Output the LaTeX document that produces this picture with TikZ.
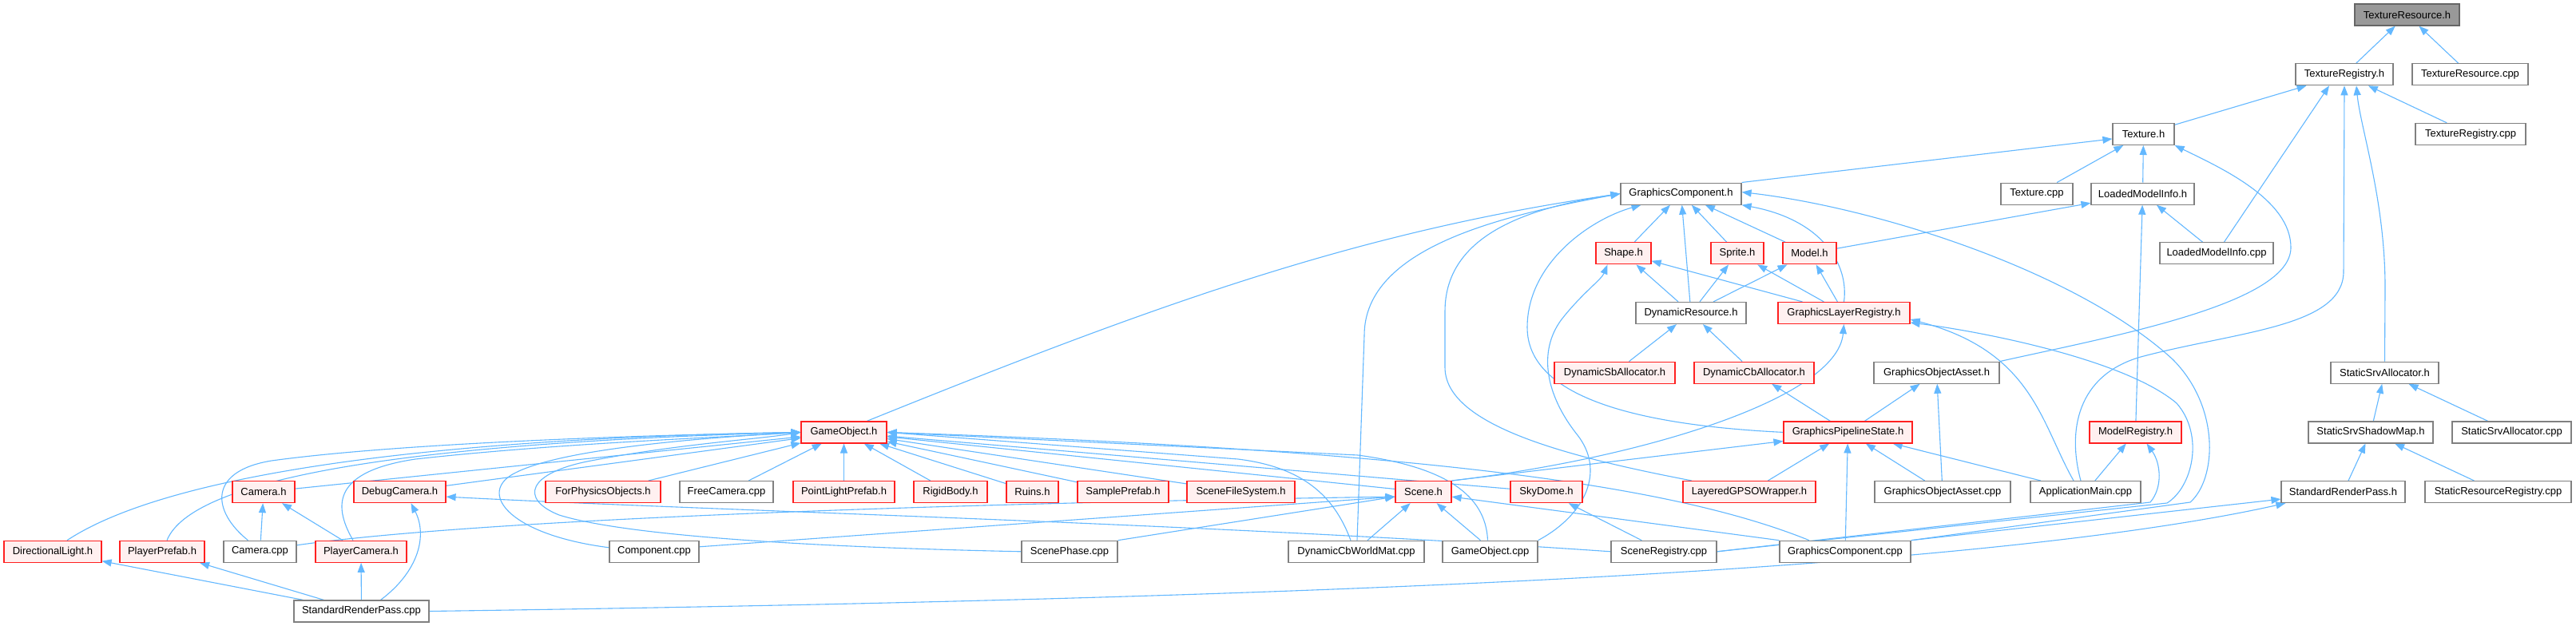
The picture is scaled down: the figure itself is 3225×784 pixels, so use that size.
\documentclass[tikz,border=0pt]{standalone}
\usepackage{fontspec}
\setmainfont{Liberation Sans}
\usetikzlibrary{arrows.meta}
\definecolor{eb}{HTML}{63B8FF}
\definecolor{rf}{HTML}{FFF0F0}
\definecolor{rb}{HTML}{FF2020}
\definecolor{gb}{HTML}{808080}
\definecolor{rootf}{HTML}{999999}
\definecolor{rootb}{HTML}{666666}
\pgfdeclarelayer{bg}
\pgfsetlayers{bg,main}
\newcommand{\mynode}[6]{\node[#1,minimum width={#4pt-#3pt}] (#2) at ({(#3+#4)/2},#5) {#6};}
\begin{document}
\begin{tikzpicture}[x=1pt,y=-1pt,
  box/.style={draw=gb, fill=white, line width=1.2pt, minimum height=27pt, inner sep=0pt, font=\fontsize{13}{15}\selectfont},
  redbox/.style={box, draw=rb, fill=rf},
  rootbox/.style={box, draw=rootb, fill=rootf},
  edge/.style={draw=eb, line width=1.1pt, -{Triangle[length=12pt,width=9pt]}}]
\useasboundingbox (0,0) rectangle (3225,784);
% row 0-2
\mynode{rootbox}{TRh}{2948}{3079}{18.5}{TextureResource.h}
\mynode{box}{TRegh}{2874}{2996}{93.2}{TextureRegistry.h}
\mynode{box}{TRescpp}{3020}{3165}{93.2}{TextureResource.cpp}
\mynode{box}{Texh}{2645}{2722}{167.9}{Texture.h}
\mynode{box}{TRegcpp}{3024}{3162}{167.9}{TextureRegistry.cpp}
% row 3
\mynode{box}{GCh}{2029}{2180}{242.6}{GraphicsComponent.h}
\mynode{box}{Texcpp}{2505}{2595}{242.6}{Texture.cpp}
\mynode{box}{LMIh}{2618}{2747}{242.6}{LoadedModelInfo.h}
% row 4
\mynode{redbox}{Shape}{1998}{2067}{317.3}{Shape.h}
\mynode{redbox}{Sprite}{2142}{2208}{317.3}{Sprite.h}
\mynode{redbox}{Model}{2232}{2299}{317.3}{Model.h}
\mynode{box}{LMIcpp}{2704}{2846}{317.3}{LoadedModelInfo.cpp}
% row 5
\mynode{box}{DR}{2048}{2186}{392}{DynamicResource.h}
\mynode{redbox}{GLR}{2226}{2391}{392}{GraphicsLayerRegistry.h}
% row 6
\mynode{redbox}{DSA}{1946}{2097}{466.7}{DynamicSbAllocator.h}
\mynode{redbox}{DCA}{2121}{2271}{466.7}{DynamicCbAllocator.h}
\mynode{box}{GOAh}{2346}{2503}{466.7}{GraphicsObjectAsset.h}
\mynode{box}{SSAh}{2918}{3053}{466.7}{StaticSrvAllocator.h}
% row 7
\mynode{redbox}{GOh}{1003}{1110}{541.4}{GameObject.h}
\mynode{redbox}{GPS}{2233}{2394}{541.4}{GraphicsPipelineState.h}
\mynode{redbox}{MR}{2616}{2731}{541.4}{ModelRegistry.h}
\mynode{box}{SSSM}{2890}{3046}{541.4}{StaticSrvShadowMap.h}
\mynode{box}{SSAcpp}{3070}{3219}{541.4}{StaticSrvAllocator.cpp}
% row 8
\mynode{redbox}{CamH}{291}{369}{616.1}{Camera.h}
\mynode{redbox}{DbgCam}{443}{558}{616.1}{DebugCamera.h}
\mynode{redbox}{FPO}{683}{827}{616.1}{ForPhysicsObjects.h}
\mynode{box}{FreeCam}{851}{968}{616.1}{FreeCamera.cpp}
\mynode{redbox}{PLP}{993}{1120}{616.1}{PointLightPrefab.h}
\mynode{redbox}{RB}{1144}{1236}{616.1}{RigidBody.h}
\mynode{redbox}{Ruins}{1260}{1325}{616.1}{Ruins.h}
\mynode{redbox}{SP}{1349}{1463}{616.1}{SamplePrefab.h}
\mynode{redbox}{SFS}{1486}{1621}{616.1}{SceneFileSystem.h}
\mynode{redbox}{Scene}{1747}{1817}{616.1}{Scene.h}
\mynode{redbox}{Sky}{1891}{1981}{616.1}{SkyDome.h}
\mynode{redbox}{LGW}{2107}{2273}{616.1}{LayeredGPSOWrapper.h}
\mynode{box}{GOAcpp}{2347}{2517}{616.1}{GraphicsObjectAsset.cpp}
\mynode{box}{App}{2542}{2680}{616.1}{ApplicationMain.cpp}
\mynode{box}{SRPh}{2856}{3011}{616.1}{StandardRenderPass.h}
\mynode{box}{SRR}{3036}{3219}{616.1}{StaticResourceRegistry.cpp}
% row 9
\mynode{redbox}{DL}{5}{127}{690.8}{DirectionalLight.h}
\mynode{redbox}{PP}{150}{256}{690.8}{PlayerPrefab.h}
\mynode{box}{CamCpp}{280}{371}{690.8}{Camera.cpp}
\mynode{redbox}{PC}{395}{509}{690.8}{PlayerCamera.h}
\mynode{box}{Comp}{763}{875}{690.8}{Component.cpp}
\mynode{box}{ScPh}{1279}{1399}{690.8}{ScenePhase.cpp}
\mynode{box}{DCWM}{1613}{1783}{690.8}{DynamicCbWorldMat.cpp}
\mynode{box}{GOcpp}{1806}{1925}{690.8}{GameObject.cpp}
\mynode{box}{SReg}{2017}{2149}{690.8}{SceneRegistry.cpp}
\mynode{box}{GCcpp}{2228}{2392}{690.8}{GraphicsComponent.cpp}
% row 10
\mynode{box}{SRPcpp}{368}{537}{765.5}{StandardRenderPass.cpp}

\begin{pgfonlayer}{bg}
\fill[white] (0,0) rectangle (3225,784);
% top part
\draw[edge] (TRegh) -- (TRh);
\draw[edge] (TRescpp) -- (TRh);
\draw[edge] (Texh) -- (TRegh);
\draw[edge] (TRegcpp) -- (TRegh);
\draw[edge] (LMIcpp) -- ([xshift=-19pt]TRegh.south);
\draw[edge] (SSAh.north) -- (2986,360) .. controls (2986,250) and (2955,160) .. ([xshift=15pt]TRegh.south);
\draw[edge] ([xshift=-6pt]App.north) .. controls (2588,540) and (2600,470) .. (2680,447) .. controls (2800,415) and (2934,410) .. (2934,340) -- (TRegh.south);
\draw[edge] (LMIh) -- (Texh);
\draw[edge] (Texcpp) -- (Texh);
\draw[edge] (GCh.north east) -- ([yshift=-6pt]Texh.west);
\draw[edge] (GOAh.north east) .. controls (2650,420) and (2868,380) .. (2868,310) .. controls (2868,250) and (2780,210) .. (Texh.south east);
\draw[edge] (Model) -- (LMIh);
\draw[edge] (LMIcpp) -- (LMIh);
\draw[edge] (MR) -- (LMIh);
% GraphicsComponent.h
\draw[edge] (Shape) -- (GCh);
\draw[edge] (Sprite) -- (GCh);
\draw[edge] (Model) -- (GCh);
\draw[edge] (DR) -- (GCh);
\draw[edge] (GLR.north) .. controls (2315,330) and (2280,275) .. (GCh.south east);
\draw[edge] (GCcpp.north east) -- (2742,629) .. controls (2775,600) and (2780,510) .. (2720,450) .. controls (2600,340) and (2350,260) .. ([yshift=2pt]GCh.east);
\draw[edge] ([xshift=29pt]GOh.north) .. controls (1450,380) and (1700,290) .. (GCh.west);
\draw[edge] ([xshift=1pt]DCWM.north) -- (1708,420) .. controls (1708,310) and (1880,270) .. (GCh.west);
\draw[edge] ([xshift=-72pt]LGW.north) .. controls (1950,570) and (1809,530) .. (1809,460) -- (1809,390) .. controls (1809,300) and (1900,262) .. (GCh.west);
\draw[edge] (GPS.west) .. controls (2000,530) and (1912,480) .. (1912,410) .. controls (1912,330) and (1990,275) .. ([xshift=-50pt]GCh.south);
% Shape / Sprite / Model
\draw[edge] (DR) -- (Shape);
\draw[edge] (DR) -- (Sprite);
\draw[edge] (DR) -- (Model);
\draw[edge] (GLR) -- (Shape);
\draw[edge] (GLR) -- (Sprite);
\draw[edge] (GLR) -- (Model);
\draw[edge] (GOcpp.north east) .. controls (1985,645) and (2010,590) .. (1975,545) .. controls (1935,495) and (1925,440) .. (1955,400) .. controls (1980,368) and (2005,350) .. ([xshift=-20pt]Shape.south);
% DynamicResource
\draw[edge] (DSA) -- (DR);
\draw[edge] (DCA) -- (DR);
% GraphicsPipelineState
\draw[edge] (GPS) -- (DCA);
\draw[edge] (GPS) -- (GOAh);
\draw[edge] (GOAcpp) -- (GOAh);
\draw[edge] (GOAcpp) -- (GPS);
\draw[edge] (LGW) -- (GPS);
\draw[edge] (GCcpp) -- (GPS);
\draw[edge] (App) -- (GPS);
\draw[edge] (Scene.north east) -- ([yshift=3pt]GPS.south west);
% GraphicsLayerRegistry
\draw[edge] (Scene.north east) .. controls (2050,575) and (2300,500) .. (GLR.south);
\draw[edge] ([xshift=-15pt]App.north) .. controls (2555,530) and (2545,440) .. ([yshift=-8pt]GLR.east);
\draw[edge] (SReg.east) -- (2713,630) .. controls (2745,610) and (2760,545) .. (2725,505) .. controls (2660,450) and (2480,415) .. ([yshift=-12pt]GLR.east);
% ModelRegistry
\draw[edge] (SReg.east) -- (2692,629) .. controls (2708,610) and (2705,580) .. ([xshift=14pt]MR.south);
\draw[edge] (App) -- (MR);
% StandardRenderPass / static
\draw[edge] (GCcpp.north east) -- ([yshift=-9pt]SRPh.west);
\draw[edge] (SRPcpp.east) .. controls (1500,752) and (2450,722) .. ([xshift=6pt]SRPh.south west);
\draw[edge] (SRPh) -- (SSSM);
\draw[edge] (SRR) -- (SSSM);
\draw[edge] (SSSM) -- (SSAh);
\draw[edge] (SSAcpp) -- (SSAh);
% bottom left
\draw[edge] (SRPcpp) -- (DL);
\draw[edge] (SRPcpp) -- (PP);
\draw[edge] (SRPcpp) -- (PC);
\draw[edge] ([xshift=24pt]SRPcpp.north) .. controls (525,715) and (535,670) .. ([xshift=14pt]DbgCam.south);
\draw[edge] (CamCpp) -- (CamH);
\draw[edge] (PC) -- (CamH);
\draw[edge] (SReg.west) .. controls (1500,655) and (900,640) .. ([yshift=-6pt]DbgCam.east);
\draw[edge] (SReg) -- (Sky);
% GameObject.h
\draw[edge] ([xshift=18pt]DL.north) .. controls (200,600) and (500,550) .. (GOh.west);
\draw[edge] ([xshift=6pt]PP.north) .. controls (240,600) and (500,555) .. (GOh.west);
\draw[edge] ([xshift=-15pt]CamCpp.north) .. controls (265,640) and (260,590) .. (340,577) .. controls (500,555) and (800,545) .. (GOh.west);
\draw[edge] (CamH) -- (GOh);
\draw[edge] ([xshift=-10pt]PC.north) .. controls (415,630) and (420,590) .. (520,575) .. controls (700,555) and (900,548) .. (GOh.west);
\draw[edge] (DbgCam) -- (GOh);
\draw[edge] ([yshift=5pt]Comp.west) .. controls (640,670) and (600,620) .. (640,595) .. controls (690,565) and (850,550) .. (GOh.west);
\draw[edge] (ScPh.west) .. controls (1000,685) and (780,670) .. (700,645) .. controls (650,625) and (660,592) .. (740,577) .. controls (850,556) and (950,550) .. (GOh.west);
\draw[edge] (FPO) -- (GOh);
\draw[edge] (FreeCam) -- (GOh);
\draw[edge] (PLP) -- (GOh);
\draw[edge] (RB) -- (GOh);
\draw[edge] (Ruins) -- (GOh);
\draw[edge] (SP) -- (GOh);
\draw[edge] (SFS) -- (GOh);
\draw[edge] (Scene) -- (GOh);
\draw[edge] (Sky) -- (GOh);
\draw[edge] ([xshift=-7pt]DCWM.north) .. controls (1670,620) and (1630,585) .. (1550,575) -- (GOh.east);
\draw[edge] ([xshift=-3pt]GOcpp.north) .. controls (1860,620) and (1810,585) .. (1700,570) -- (GOh.east);
\draw[edge] ([xshift=-45pt]GCcpp.north) .. controls (2100,610) and (1800,565) .. (GOh.east);
% Scene.h
\draw[edge] ([yshift=8pt]CamCpp.east) .. controls (600,650) and (1200,630) .. ([yshift=-6pt]Scene.west);
\draw[edge] ([yshift=6pt]Comp.east) -- ([yshift=-6pt]Scene.west);
\draw[edge] (ScPh.north east) -- ([yshift=-6pt]Scene.west);
\draw[edge] ([xshift=14pt]DCWM.north) -- (Scene);
\draw[edge] ([xshift=-12pt]GOcpp.north) -- (Scene);
\draw[edge] (GCcpp.north west) -- ([yshift=-6pt]Scene.east);
\end{pgfonlayer}
\end{tikzpicture}
\end{document}
